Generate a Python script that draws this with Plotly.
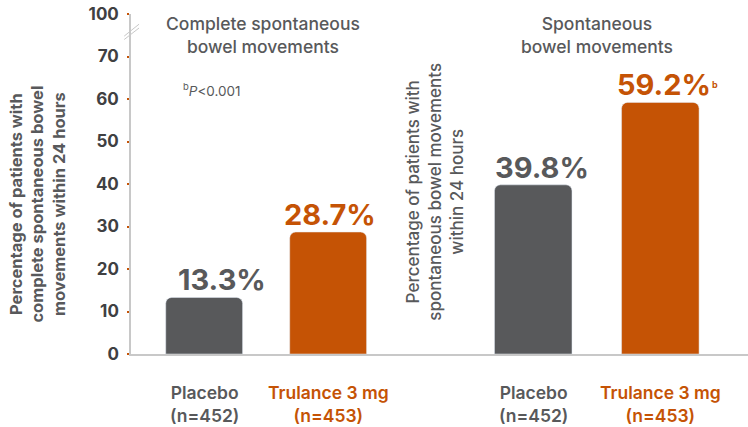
import plotly.graph_objects as go

categories = ["Placebo", "Trulance 3 mg"]
cat_labels = ["Placebo<br>(n=452)", "Trulance 3 mg<br>(n=453)"]
csbm_values = [13.3, 28.7]
sbm_values = [39.8, 59.2]
csbm_text = ["13.3%", "28.7%"]
sbm_text = ["39.8%", "59.2%"]
tick_vals = [0, 10, 20, 30, 40, 50, 60, 70, 80]
tick_text = ["0", "10", "20", "30", "40", "50", "60", "70", "100"]
panel_titles = ["Complete spontaneous<br>bowel movements", "Spontaneous<br>bowel movements"]
y_titles = ["Percentage of patients with<br>complete spontaneous bowel<br>movements within 24 hours",
            "Percentage of patients with<br>spontaneous bowel movements<br>within 24 hours"]
footnote = "<sup>b</sup><i>P</i><0.001"

GREY = "#58595b"
ORANGE = "#c55305"
TXT = "#58595b"
FONT = "Inter"
colors = [GREY, ORANGE]
label_xshift = {"x": [18, 2], "x2": [9, 4]}

fig = go.Figure()
fig.add_trace(go.Bar(x=categories, y=csbm_values, marker=dict(color=colors, cornerradius=6),
                     width=0.62, xaxis="x", yaxis="y", hoverinfo="skip"))
fig.add_trace(go.Bar(x=categories, y=sbm_values, marker=dict(color=colors, cornerradius=6),
                     width=0.61, xaxis="x2", yaxis="y", hoverinfo="skip"))

ann = []
for ax, vals, texts in (("x", csbm_values, csbm_text), ("x2", sbm_values, sbm_text)):
    for i, c in enumerate(categories):
        ann.append(dict(x=c, y=vals[i], xref=ax, yref="y", text=texts[i], showarrow=False,
                        xanchor="center", yanchor="bottom", yshift=-2, xshift=label_xshift[ax][i],
                        font=dict(family=FONT, size=29, color=colors[i], weight="bold")))
        ann.append(dict(x=c, y=-0.147, xref=ax, yref="paper", text=cat_labels[i], showarrow=False,
                        xanchor="center", yanchor="middle",
                        font=dict(family=FONT, size=17.5, color=colors[i], weight=600)))

# superscript "b" next to the 59.2% label
ann.append(dict(x=categories[1], y=sbm_values[1], xref="x2", yref="y", text="b", showarrow=False,
                xanchor="left", yanchor="bottom", xshift=50, yshift=10,
                font=dict(family=FONT, size=9, color=ORANGE, weight="bold")))

ann.append(dict(x=0.214, y=0.938, xref="paper", yref="paper", text=panel_titles[0], showarrow=False,
                xanchor="center", yanchor="middle",
                font=dict(family=FONT, size=17.5, color=TXT, weight=500)))
ann.append(dict(x=0.755, y=0.938, xref="paper", yref="paper", text=panel_titles[1], showarrow=False,
                xanchor="center", yanchor="middle",
                font=dict(family=FONT, size=17.5, color=TXT, weight=500)))
ann.append(dict(x=0.081, y=0.776, xref="paper", yref="paper", text=footnote, showarrow=False,
                xanchor="left", yanchor="middle", font=dict(family=FONT, size=13.5, color=TXT)))
ann.append(dict(x=-0.152, y=0.44, xref="paper", yref="paper", text=y_titles[0], showarrow=False,
                xanchor="center", yanchor="middle",
                textangle=-90, font=dict(family=FONT, size=16.5, color=TXT, weight="bold")))
ann.append(dict(x=0.493, y=0.478, xref="paper", yref="paper", text=y_titles[1], showarrow=False,
                xanchor="center", yanchor="middle",
                textangle=-90, font=dict(family=FONT, size=17, color=TXT, weight=500)))

line_col = "#c8c8c8"
shapes = [
    dict(type="line", xref="paper", yref="y", x0=-0.011, y0=74.8, x1=0.013, y1=77.6,
         line=dict(color=line_col, width=1)),
    dict(type="line", xref="paper", yref="y", x0=-0.011, y0=74.0, x1=0.013, y1=76.7,
         line=dict(color=line_col, width=1)),
]

fig.update_layout(
    width=748, height=427,
    margin=dict(l=131, r=0, t=14, b=73),
    paper_bgcolor="white", plot_bgcolor="white",
    showlegend=False,
    xaxis=dict(domain=[0, 0.42], range=[-0.59, 1.5], showline=True, linecolor=line_col, linewidth=1.5,
               showticklabels=False, ticks="", showgrid=False, zeroline=False, anchor="y"),
    xaxis2=dict(domain=[0.42, 1], range=[-1.126, 1.69], showline=True, linecolor=line_col, linewidth=1.5,
                showticklabels=False, ticks="", showgrid=False, zeroline=False, anchor="y"),
    yaxis=dict(range=[0, 80], tickvals=tick_vals, ticktext=tick_text, showline=True, linecolor=line_col,
               linewidth=1.5, ticks="outside", ticklen=2, tickwidth=2, tickcolor=ORANGE,
               tickfont=dict(family=FONT, size=17, color="#3f4042", weight="bold"),
               showgrid=False, zeroline=False, ticklabelstandoff=5),
    annotations=ann, shapes=shapes,
)

fig.write_html("out.html", config={"displayModeBar": False},
               post_script="document.body.style.margin='0';")
